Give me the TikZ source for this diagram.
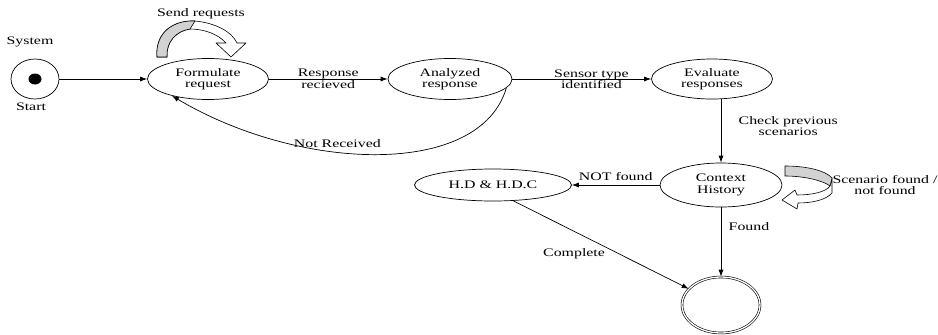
\documentclass[tikz,border=0pt]{standalone}
\usepackage{fontspec}
\setmainfont{Liberation Serif}[FakeStretch=1.38]
\usepackage{tikz}
\usetikzlibrary{shapes,arrows,positioning,arrows.meta}
\tikzstyle{state} = [ellipse, draw=black, line width=0.7pt, minimum width=121pt, minimum height=41pt, text centered, inner sep=0pt, align=center]
\tikzstyle{startstate} = [ellipse, draw=black, line width=0.7pt, minimum width=48pt, minimum height=40pt, inner sep=0pt]
\tikzstyle{endstate} = [ellipse, draw=black, line width=0.6pt, double, double distance=1.3pt, minimum width=78pt, minimum height=56pt, inner sep=0pt]
\tikzstyle{line} = [draw=black, line width=0.7pt, -{Latex[length=7pt,width=5pt]}]
\tikzstyle{loopband} = [draw=black, line width=0.6pt, line join=round]

\begin{document}
\begin{tikzpicture}[x=1pt,y=1pt,align=center,font=\fontsize{11.5}{11.5}\selectfont]
	\useasboundingbox (0,0) rectangle (938,-335);
	\node[startstate](start) at (35,-79){};
	\fill (start) ellipse (6.5pt and 5.5pt);
	\node[above of=start, node distance=37pt, xshift=-5pt](system){System};
	\node[below of=start, node distance=28pt, xshift=-4pt](startlabel){Start};
	\node[state, right of=start, node distance=173pt](formulate){Formulate\\request};
	\node[state, right of=formulate, node distance=242pt, minimum width=124pt](analyzed){Analyzed\\response};
	\node[state, right of=analyzed, node distance=262pt, minimum height=40pt](evaluate){Evaluate\\responses};
	\node[state, below of=evaluate, node distance=106pt, xshift=9pt, minimum width=122pt, minimum height=44pt](context){Context\\History};
	\node[state, left of=context, node distance=228pt, minimum width=157pt, minimum height=32pt](hd){H.D \& H.D.C};
	\node[endstate, below of=context, node distance=120pt](final){};
	\node[above of=formulate, node distance=65pt, xshift=-7pt](sendlabel){Send requests};
	\node[right of=context, node distance=164pt](scenariolabel){Scenario found /\\not found};

	\path[line](start)      -- (formulate);
	\path[line](formulate)  -- node{Response\\recieved} (analyzed);
	\path[line](analyzed)   -- node[pos=0.57]{Sensor type\\identified} (evaluate);
	\path[line](analyzed.-9) .. controls (480,-178) and (300,-172) .. node[pos=0.6, above=1pt]{Not Received} (formulate.205);
	\path[line](evaluate.south -| context.north) -- node[pos=0.42, right=14pt]{Check previous\\scenarios} (context);
	\path[line](context)    -- node[above=1pt]{NOT found} (hd);
	\path[line](hd.-38)     -- node[pos=0.53, anchor=north east, inner sep=1pt]{Complete} (final);
	\path[line](context)    -- node[pos=0.28, right=4pt]{Found} (final);

	\filldraw[loopband, fill=white] (157,-57) .. controls (155,-32) and (174,-20) .. (195,-21)
		.. controls (216,-23) and (232,-32) .. (237,-43) -- (246,-43) -- (231,-57) -- (216,-43) -- (226,-43)
		.. controls (218,-34) and (204,-29) .. (190,-29) .. controls (176,-31) and (166,-42) .. (167,-57) -- cycle;
	\filldraw[loopband, fill=gray!35] (157,-57) .. controls (155,-32) and (174,-20) .. (195,-21)
		-- (190,-29) .. controls (176,-31) and (166,-42) .. (167,-57) -- cycle;

	\filldraw[loopband, fill=white] (832,-178) -- (832,-193) .. controls (826,-200) and (812,-203) .. (798,-203)
		-- (797,-209) -- (782,-200) -- (795,-190) -- (797,-195) .. controls (812,-195) and (826,-192) .. (830,-186) -- cycle;
	\filldraw[loopband, fill=gray!35] (785,-166) .. controls (805,-166) and (825,-170) .. (832,-178)
		-- (830,-186) .. controls (824,-181) and (805,-176) .. (785,-176) -- cycle;
\end{tikzpicture}
\end{document}
